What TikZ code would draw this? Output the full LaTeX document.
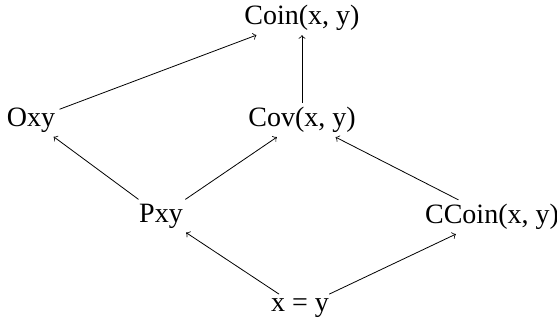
\documentclass[tikz,border=0pt]{standalone}
\usepackage{fontspec}
\setmainfont{Liberation Serif}
\usetikzlibrary{arrows}

\begin{document}
\begin{tikzpicture}[x=0.5pt, y=-0.5pt, every node/.style={font=\fontsize{14}{16}\selectfont, inner sep=2pt, anchor=center}]
  \useasboundingbox (0,0) rectangle (557,320);
  \node (coin) at (302,18) {Coin(x, y)};
  \node (oxy) at (31,120) {Oxy};
  \node (cov) at (302,120) {Cov(x, y)};
  \node (pxy) at (161,216) {Pxy};
  \node (ccoin) at (492,217) {CCoin(x, y)};
  \node (eq) at (300,308) {x = y};
  \draw[->] (oxy) -- (coin);
  \draw[->] (cov) -- (coin);
  \draw[->] (pxy) -- (oxy);
  \draw[->] (pxy) -- (cov);
  \draw[->] (ccoin) -- (cov);
  \draw[->] (eq) -- (pxy);
  \draw[->] (eq) -- (ccoin);
\end{tikzpicture}
\end{document}
